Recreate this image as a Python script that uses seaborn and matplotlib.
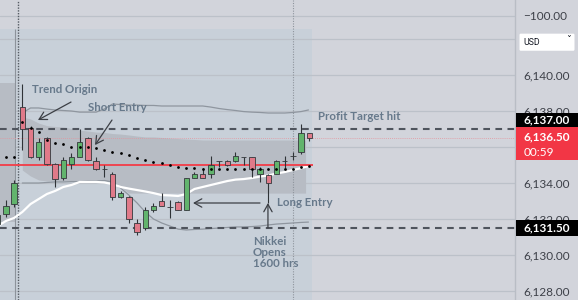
import matplotlib
matplotlib.use("Agg")
import matplotlib.pyplot as plt
import seaborn as sns
import numpy as np
import pandas as pd
from matplotlib.patches import Rectangle, FancyBboxPatch

# ---------------- data ----------------
bar_idx = list(range(-3, 36))
opens = [6131.72, 6132.28, 6132.83, 6138.22, 6137.06, 6135.44, 6136.50, 6135.06, 6134.28, 6135.06,
         6135.44, 6136.50, 6135.22, 6134.78, 6134.50, 6133.22, 6133.22, 6131.78, 6131.50, 6132.50,
         6133.00, 6132.67, 6132.94, 6132.50, 6134.28, 6134.50, 6134.50, 6135.22, 6135.22, 6135.22,
         6135.44, 6135.44, 6134.50, 6134.44, 6134.50, 6135.22, 6135.50, 6135.72, 6136.78]
highs = [6132.39, 6133.06, 6134.17, 6139.50, 6137.17, 6136.50, 6136.56, 6135.11, 6135.44, 6135.67,
         6137.00, 6136.56, 6135.44, 6135.00, 6134.61, 6133.56, 6133.28, 6132.00, 6132.67, 6132.89,
         6133.44, 6133.06, 6133.00, 6134.28, 6134.61, 6134.83, 6135.50, 6135.22, 6135.28, 6135.72,
         6135.44, 6135.44, 6134.89, 6134.50, 6135.28, 6135.50, 6135.72, 6137.28, 6136.78]
lows = [6131.61, 6132.11, 6132.67, 6135.83, 6135.39, 6135.28, 6135.00, 6133.78, 6134.17, 6134.78,
        6135.44, 6135.22, 6134.72, 6134.33, 6133.06, 6133.17, 6131.78, 6131.11, 6131.39, 6132.39,
        6132.72, 6132.06, 6132.50, 6132.50, 6134.28, 6134.28, 6134.28, 6134.89, 6134.94, 6135.17,
        6135.00, 6134.33, 6134.06, 6132.89, 6134.50, 6134.83, 6135.28, 6135.61, 6136.33]
closes = [6132.22, 6132.72, 6134.00, 6137.00, 6135.44, 6136.28, 6135.06, 6134.22, 6135.28, 6135.44,
          6136.28, 6135.28, 6134.78, 6134.78, 6133.22, 6133.44, 6132.00, 6131.28, 6132.50, 6132.72,
          6132.72, 6132.67, 6132.50, 6134.28, 6134.50, 6134.28, 6135.00, 6135.22, 6135.00, 6135.50,
          6135.44, 6134.78, 6134.78, 6134.00, 6135.22, 6135.22, 6135.50, 6136.78, 6136.50]

# dotted indicator (one value per bar, from bar -2)
dot_idx = list(range(-2, 36))
dot_vals = [6135.44, 6135.44, 6137.39, 6137.06, 6136.83, 6136.39, 6136.22, 6136.17, 6136.00, 6136.00,
            6136.00, 6135.94, 6135.83, 6135.72, 6135.67, 6135.56, 6135.39, 6135.28, 6135.17, 6135.11,
            6135.00, 6134.89, 6134.83, 6134.83, 6134.78, 6134.78, 6134.78, 6134.78, 6134.78, 6134.78,
            6134.78, 6134.78, 6134.78, 6134.78, 6134.78, 6134.78, 6134.89, 6134.94]

# white moving line (bars -3..35)
white_vals = [6131.61, 6131.89, 6132.06, 6132.39, 6132.83, 6133.11, 6133.39, 6133.56, 6133.78, 6133.89,
              6134.06, 6134.06, 6134.06, 6134.03, 6133.94, 6133.78, 6133.69, 6133.61, 6133.53, 6133.44,
              6133.33, 6133.31, 6133.28, 6133.39, 6133.67, 6133.78, 6133.89, 6134.00, 6134.11, 6134.19,
              6134.22, 6134.28, 6134.36, 6134.42, 6134.53, 6134.61, 6134.72, 6134.83, 6134.94]

# session bands (bars 0..35)
band_idx = list(range(0, 36))
upper_line = [6137.89, 6138.17, 6138.17, 6138.11, 6138.06, 6138.03, 6138.00, 6137.94, 6137.94, 6137.94,
              6138.11, 6138.39, 6138.36, 6138.33, 6138.33, 6138.31, 6138.31, 6138.28, 6138.28, 6138.28,
              6138.28, 6138.28, 6138.28, 6138.22, 6138.14, 6138.08, 6138.03, 6137.97, 6137.94, 6137.92,
              6137.89, 6137.89, 6137.89, 6137.92, 6137.97, 6138.06]
lower_line = [6134.00, 6134.00, 6134.00, 6134.03, 6134.06, 6134.06, 6134.08, 6134.08, 6134.11, 6134.11,
              6134.14, 6134.06, 6133.72, 6133.33, 6132.89, 6132.39, 6132.00, 6131.78, 6131.61, 6131.44,
              6131.39, 6131.42, 6131.44, 6131.47, 6131.50, 6131.53, 6131.56, 6131.56, 6131.58, 6131.61,
              6131.67, 6131.72, 6131.75, 6131.78, 6131.81, 6131.83]
band_top = [6137.67, 6137.56, 6137.33, 6137.19, 6137.14, 6137.11, 6137.03, 6136.94, 6136.89, 6136.83,
            6136.81, 6136.75, 6136.72, 6136.67, 6136.61, 6136.56, 6136.56, 6136.53, 6136.50, 6136.47,
            6136.44, 6136.42, 6136.39, 6136.39, 6136.39, 6136.39, 6136.39, 6136.39, 6136.39, 6136.39,
            6136.39, 6136.39, 6136.39, 6136.39, 6136.39, 6136.39]
band_bot = [6134.72, 6134.39, 6134.17, 6134.11, 6134.11, 6134.11, 6134.11, 6134.11, 6134.11, 6134.11,
            6134.11, 6134.06, 6133.78, 6133.44, 6133.44, 6133.44, 6133.44, 6133.44, 6133.44, 6133.44,
            6133.44, 6133.44, 6133.44, 6133.44, 6133.44, 6133.44, 6133.44, 6133.44, 6133.44, 6133.44,
            6133.44, 6133.44, 6133.44, 6133.44, 6133.44, 6133.44]
prev_band = [6139.55, 6131.85]          # previous session band (top, bottom)

price_ticks = [6128, 6130, 6132, 6134, 6136, 6138, 6140, 6142]
hidden_ticks = [6136, 6142]              # covered by the price badge / currency box
extra_grid = 6143.28
profit_level = 6137.00
stop_level = 6131.50
vwap_level = 6135.00
last_price = 6136.50
countdown = "00:59"

# ---------------- style ----------------
BG = '#d2d4db'
SESSION = '#c8d0d9'
BAND = '#b7bcc4'
GRID = '#bcc1c9'
NOTE = '#67798b'
ARROW = '#3c3f45'

sns.set_theme(style="white")
plt.rcParams['font.family'] = ['Lato', 'DejaVu Sans']

fig = plt.figure(figsize=(5.78, 3.0), dpi=100)
fig.patch.set_facecolor(BG)
ax = fig.add_axes([0, 0, 515 / 578, 1])
ax.set_facecolor(BG)
x0, x1 = -2.72, 60.09
y0, y1 = 6127.5, 6144.17
ax.set_xlim(x0, x1)
ax.set_ylim(y0, y1)

# session background
sess_top = 6142.56
sess_end = bar_idx[-1] + 0.35
ax.add_patch(Rectangle((x0, y0), sess_end - x0, sess_top - y0, color=SESSION, lw=0, zorder=0))

# grid
for p in price_ticks + [extra_grid]:
    ax.axhline(p, color=GRID, lw=0.9, zorder=0.5)

# previous session band
ax.fill_between([x0, -0.89], prev_band[0], prev_band[1], color=BAND, lw=0, zorder=1)
# current band
ax.fill_between(band_idx[:-1] + [bar_idx[-1] - 0.45], band_top, band_bot, color=BAND, lw=0, zorder=1)

# thin envelope lines
ux = band_idx[:-1] + [bar_idx[-1] - 0.1]
sns.lineplot(x=ux, y=upper_line, ax=ax, color='#8f969f', lw=0.9, zorder=2, legend=False)
sns.lineplot(x=ux, y=lower_line, ax=ax, color='#8f969f', lw=0.9, zorder=2, legend=False)
# white line
sns.lineplot(x=bar_idx[:-1] + [bar_idx[-1] - 0.1], y=white_vals, ax=ax, color='white', lw=1.6,
             zorder=2.2, legend=False)

# vertical session markers
ax.vlines(-0.89, y0, sess_top, color='#8d939b', lw=0.8, zorder=2)
ax.axvline(-0.56, color='#555b63', lw=1.0, ls=(0, (1, 1)), zorder=2)
ax.axvline(33.0, color='#8e949c', lw=0.8, ls=(0, (1, 1.3)), zorder=2)

# horizontal levels
ax.hlines(vwap_level, x0, sess_end + 0.1, color='#ef4550', lw=1.4, zorder=3)
ax.axhline(last_price, color='#e5939c', lw=0.6, ls=(0, (1, 1.5)), zorder=2)
ax.axhline(profit_level, color='#4f545d', lw=1.5, ls=(0, (3.2, 2.6)), zorder=3)
ax.axhline(stop_level, color='#4f545d', lw=1.5, ls=(0, (3.2, 2.6)), zorder=3)

# candles
df = pd.DataFrame(dict(i=bar_idx, o=opens, h=highs, l=lows, c=closes))
up = df.c >= df.o
cols = np.where(up, '#62b46d', '#e07a89')
ax.vlines(df.i, df.l, df.h, color='#2f3337', lw=0.8, zorder=4)
ax.bar(df.i, (df.c - df.o).abs(), bottom=np.minimum(df.o, df.c), width=0.64, color=cols,
       edgecolor='#34383c', linewidth=0.6, zorder=5)

# dots
sns.scatterplot(x=dot_idx, y=dot_vals, ax=ax, color='black', s=4, linewidth=0, zorder=6,
                legend=False)

# annotations
tkw = dict(color=NOTE, fontsize=8.3, fontweight='bold', va='center', ha='left', zorder=8)
ax.text(1.18, 6139.22, "Trend Origin", **tkw)
ax.text(8.0, 6138.17, "Short Entry", **tkw)
ax.text(36.06, 6137.67, "Profit Target hit", **tkw)
ax.text(31.06, 6132.92, "Long Entry", **tkw)
ax.text(28.13, 6131.05, "Nikkei\nOpens\n1600 hrs", color=NOTE, fontsize=8.3, fontweight='bold',
        va='top', ha='left', linespacing=1.0, zorder=8)

akw = dict(arrowstyle='->,head_length=0.45,head_width=0.25', color=ARROW, lw=0.9,
           shrinkA=0, shrinkB=0)
ax.annotate("", xy=(1.91, 6137.5), xytext=(5.94, 6138.5), arrowprops=akw, zorder=8)
ax.annotate("", xy=(8.87, 6136.11), xytext=(10.94, 6137.5), arrowprops=akw, zorder=8)
ax.annotate("", xy=(20.82, 6132.89), xytext=(28.99, 6132.89), arrowprops=akw, zorder=8)
ax.annotate("", xy=(29.96, 6132.89), xytext=(29.96, 6131.5), arrowprops=akw, zorder=8)

# y axis on right
ax.yaxis.tick_right()
ax.set_yticks(price_ticks)
ax.set_yticklabels(["" if p in hidden_ticks else f"{p:,.2f}" for p in price_ticks])
ax.tick_params(axis='y', length=0, pad=6, labelsize=8.5, labelcolor='#3d4048')
ax.set_xticks([])
for s in ['top', 'left', 'bottom']:
    ax.spines[s].set_visible(False)
ax.spines['right'].set_color('#b9bdc5')
ax.spines['right'].set_linewidth(1)

# right price-scale overlay (badges)
ax2 = fig.add_axes([515 / 578, 0, 63 / 578, 1])
ax2.set_xlim(0, 63)
ax2.set_ylim(y0, y1)
ax2.set_facecolor('none')
ax2.axis('off')

ax2.text(8, extra_grid, "\u2212100.00", fontsize=8.5, color='#3d4048', va='center', ha='left')
ax2.add_patch(FancyBboxPatch((4.5, 6141.35), 55, 0.95, boxstyle="round,pad=0,rounding_size=1.2",
                             facecolor='white', edgecolor='none', mutation_aspect=0.06, zorder=3))
ax2.text(8, 6141.83, "USD", fontsize=6.3, color='#131722', va='center', ha='left', zorder=4,
         family=['Roboto', 'DejaVu Sans'])
ax2.text(54, 6141.9, "\u02c7", fontsize=7, color='#131722', va='center', ha='center', zorder=4,
         family=['DejaVu Sans'])

def badge(ytop, ybot, face):
    ax2.add_patch(Rectangle((1, ybot), 62, ytop - ybot, facecolor=face, edgecolor='none', zorder=5))

badge(6137.89, 6137.11, 'black')
ax2.text(32, 6137.5, f"{profit_level:,.2f}", color='white', fontsize=8.5, fontweight='bold',
         va='center', ha='center', zorder=6)
badge(6137.11, 6135.28, '#f23645')
ax2.text(8, 6136.56, f"{last_price:,.2f}", color='white', fontsize=8.5, fontweight='bold',
         va='center', ha='left', zorder=6)
ax2.text(8.5, 6135.72, countdown, color='white', fontsize=8.5, va='center', ha='left', zorder=6)
badge(6131.92, 6131.08, 'black')
ax2.text(32, 6131.5, f"{stop_level:,.2f}", color='white', fontsize=8.5, fontweight='bold',
         va='center', ha='center', zorder=6)

fig.savefig("out.png", dpi=100, facecolor=BG)
